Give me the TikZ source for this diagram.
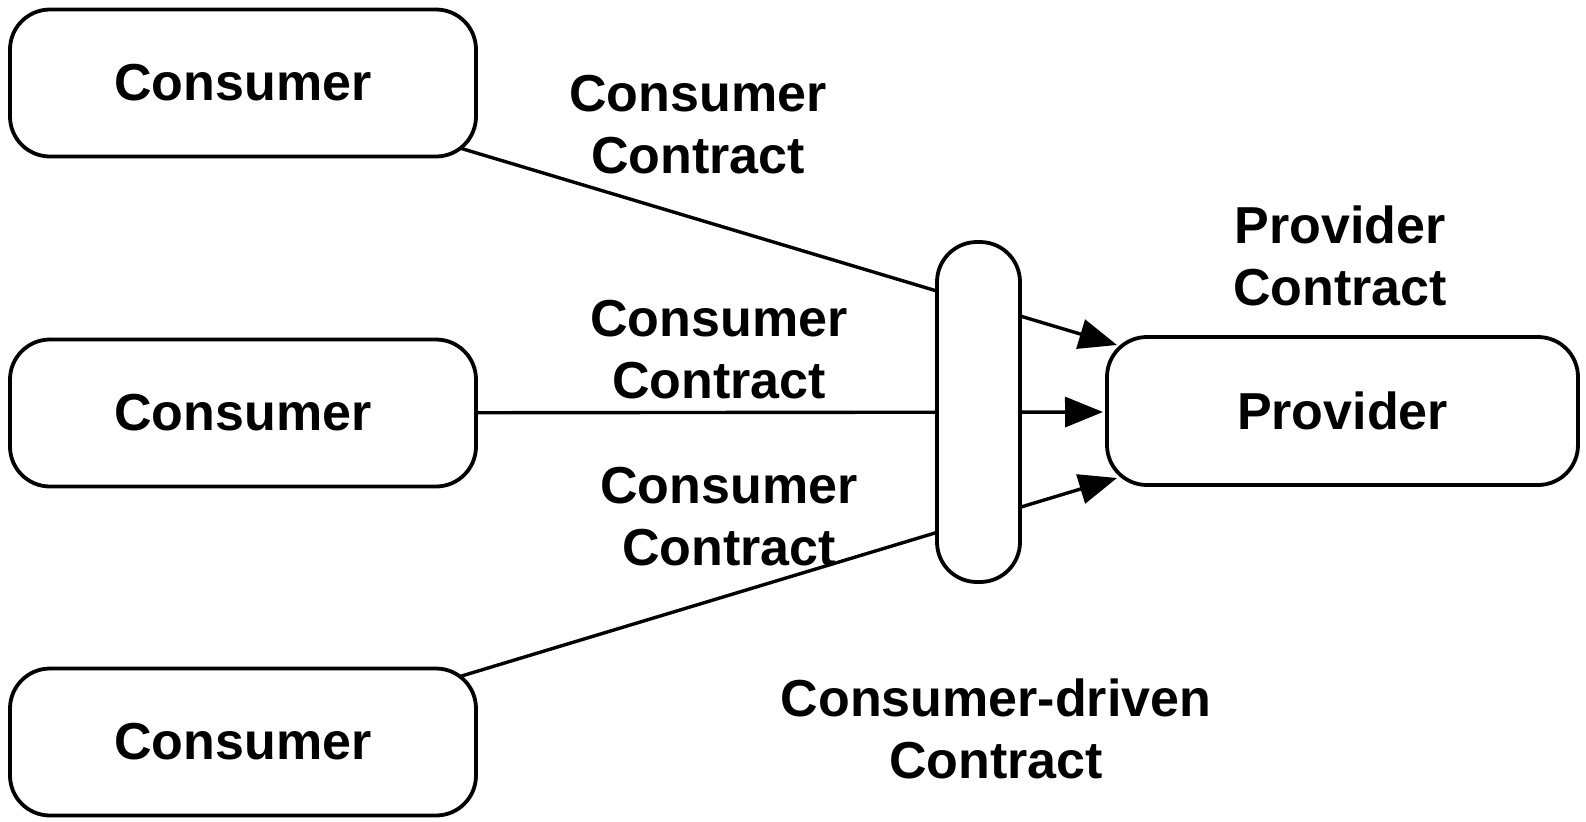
\documentclass[tikz,border=0pt]{standalone}
\usepackage{fontspec}
\setmainfont{Liberation Sans}
\usetikzlibrary{arrows.meta,backgrounds}
\begin{document}
\begin{tikzpicture}[x=0.5pt,y=-0.5pt,
    txt/.style={font=\fontsize{26}{31}\selectfont\bfseries,align=center},
    box/.style={draw,line width=1.9pt,rounded corners=20pt,fill=white,inner sep=0pt,
      minimum width=233pt,minimum height=73.5pt},
    link/.style={line width=1.7pt,-{Triangle[length=19pt,width=15pt]}}]
  \useasboundingbox (0,0) rectangle (1586,821);
  \foreach \y/\name in {83/cona,413/conb,742/conc}
    \node[box,txt] (\name) at (243,\y) {Consumer};
  \node[box,txt,minimum width=235.5pt,minimum height=74pt] (prov) at (1342.5,411) {Provider};
  \node[box,minimum width=41.5pt,minimum height=170pt] (cdc) at (978.5,412) {};
  % arrow ends at the provider
  \coordinate (tipa) at (1117,345);
  \coordinate (tipb) at (1103,412);
  \coordinate (tipc) at (1117,478);
  \begin{scope}[on background layer]
    \draw[link] (cona.center) -- (tipa);
    \draw[link] (conb.center) -- (tipb);
    \draw[link] (conc.center) -- (tipc);
  \end{scope}
  \node[txt] (laba) at (698,125) {Consumer\\Contract};
  \node[txt] (labb) at (719,350) {Consumer\\Contract};
  \node[txt] (labc) at (729,517) {Consumer\\Contract};
  \node[txt] (labp) at (1340,256) {Provider\\Contract};
  \node[txt] (labd) at (996,729) {Consumer-driven\\Contract};
\end{tikzpicture}
\end{document}
